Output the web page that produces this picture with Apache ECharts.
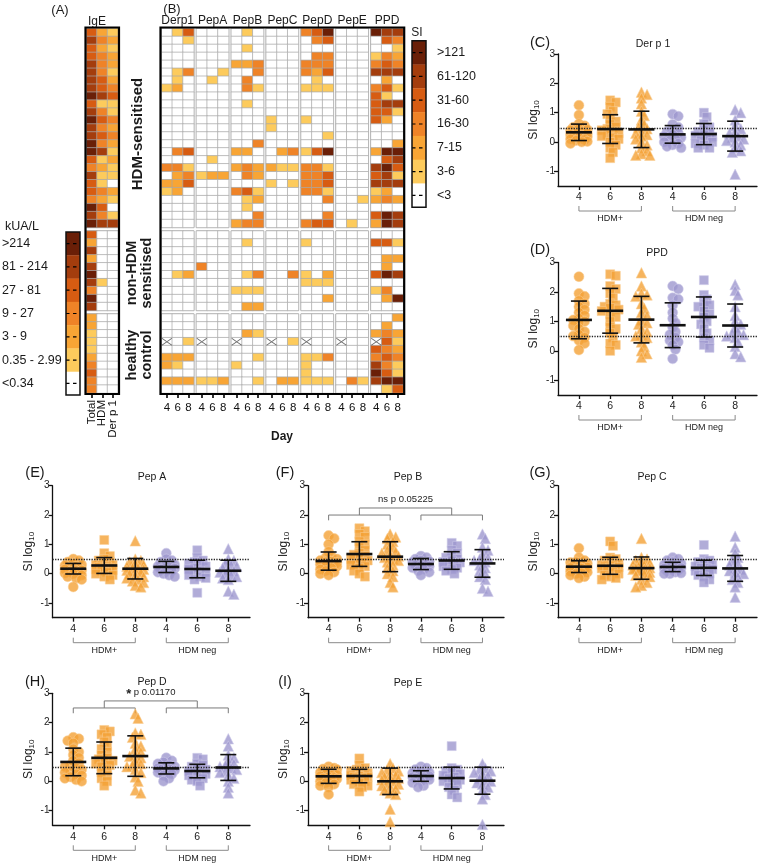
<!DOCTYPE html>
<html>
<head>
<meta charset="utf-8">
<script src="https://cdn.jsdelivr.net/npm/echarts@6/dist/echarts.min.js"></script>
<style>
  html, body { margin: 0; background: #fff; }
  #chart { width: 758px; height: 865px; }
</style>
</head>
<body>
<div id="chart"></div>
<script>
// ---------- heatmap data (level 0..6 per cell, 'x' = not tested) ----------
const sectionSizes = [25, 10, 10];
const igeCols = ['Total', 'HDM', 'Der p 1'];
const antigens = ['Derp1', 'PepA', 'PepB', 'PepC', 'PepD', 'PepE', 'PPD'];
const dayLabels = ['4', '6', '8'];
const igeLegend = ['>214', '81 - 214', '27 - 81', '9 - 27', '3 - 9', '0.35 - 2.99', '<0.34'];
const siLegend = ['>121', '61-120', '31-60', '16-30', '7-15', '3-6', '<3'];

const igeRows = ['421','532','421','432','532','531','542','543','654','411','531','643','532','543','632','651','412','321','511','410','432','321','640','531','655',
  '400','200','500','200','500','600','510','300','600','500',
  '200','200','100','100','100','200','300','400','300','300'];
const derp1Rows = ['014','001','000','000','000','013','010','120','000','000','000','000','000','000','000','034','000','331','023','224','120','000','000','000','000',
  '000','000','000','000','000','012','000','000','000','000',
  '000','000','000','x01','000','222','210','000','222','000'];
const pepARows = ['000','000','000','000','000','001','010','000','000','000','000','000','000','000','000','000','010','000','122','000','000','000','000','000','000',
  '000','000','000','000','300','000','000','000','000','000',
  '000','000','000','x00','000','000','000','000','112','000'];
const pepBRows = ['010','000','010','000','223','003','030','031','000','010','000','000','000','000','003','220','000','232','032','000','341','012','010','003','233',
  '000','010','000','000','000','013','000','111','000','022',
  '000','000','021','x00','000','001','100','000','001','000'];
const pepCRows = ['000','000','000','000','000','000','000','000','000','000','000','100','100','000','000','023','000','211','000','101','000','000','000','000','000',
  '000','000','000','000','000','003','000','000','000','000',
  '000','000','000','x01','000','000','000','000','022','000'];
const pepDRows = ['346','034','000','033','333','324','010','111','000','000','000','100','000','001','000','146','000','331','334','334','331','003','000','003','344',
  '000','100','000','000','000','102','111','000','002','000',
  '000','000','000','x00','000','113','100','100','111','000'];
const pepERows = ['000','000','000','000','000','000','000','000','000','000','000','000','000','000','000','000','000','000','000','000','000','001','000','000','010',
  '000','000','000','000','000','000','000','000','000','000',
  '000','000','000','x00','000','000','000','000','031','000'];
const ppdRows = ['655','043','001','132','343','555','020','341','410','455','441','420','000','000','002','266','045','564','451','555','120','232','000','465','265',
  '000','441','000','022','020','465','000','130','026','000',
  '002','020','232','x41','432','343','531','641','566','014'];
const antigenRows = [derp1Rows, pepARows, pepBRows, pepCRows, pepDRows, pepERows, ppdRows];

// ---------- scatter data: SI log10 per subject, groups HDM+ d4/d6/d8, HDM neg d4/d6/d8 ----------
const cohortNames = ['HDM+', 'HDM neg'];
const derP1Values = [
  [1.25,0.92,0.62,0.55,0.5,0.45,0.42,0.4,0.35,0.3,0.3,0.25,0.22,0.2,0.18,0.15,0.1,0.08,0.05,0.02,0,-0.05],
  [1.42,1.35,1.2,1.05,0.95,0.8,0.7,0.6,0.52,0.45,0.4,0.35,0.3,0.25,0.2,0.15,0.1,0,-0.1,-0.2,-0.35,-0.55],
  [1.7,1.62,1.5,1.3,1.05,0.9,0.75,0.6,0.5,0.45,0.35,0.3,0.25,0.2,0.1,0,-0.1,-0.2,-0.3,-0.4,-0.45,-0.45],
  [0.95,0.88,0.6,0.5,0.42,0.35,0.3,0.25,0.2,0.15,0.1,0.05,0,-0.05,-0.1,-0.15,-0.2],
  [1,0.85,0.62,0.5,0.4,0.35,0.3,0.25,0.22,0.18,0.12,0.05,0,-0.05,-0.1,-0.2,-0.2],
  [1.1,1,0.75,0.55,0.45,0.35,0.3,0.2,0.15,0.1,0.05,0,-0.1,-0.2,-0.3,-0.35,-1.1]
];
const derP1Mean = [0.33, 0.44, 0.43, 0.26, 0.27, 0.20];
const derP1Sd = [0.28, 0.49, 0.62, 0.30, 0.36, 0.51];

const ppdValues = [
  [2.52,1.95,1.85,1.7,1.6,1.5,1.4,1.3,1.2,1.1,1.05,1,0.95,0.85,0.75,0.65,0.55,0.5,0.45,0.35,0.25,0.03],
  [2.6,2.55,2.2,2.1,1.95,1.8,1.6,1.55,1.5,1.45,1.4,1.35,1.25,1.15,1,0.8,0.75,0.6,0.45,0.25,0.2,0],
  [2.65,2.2,1.95,1.9,1.85,1.6,1.45,1.3,1.2,1.05,0.95,0.9,0.75,0.65,0.55,0.5,0.45,0.3,0.15,0,-0.1,-0.22],
  [2.2,2.1,1.8,1.75,1.55,1.3,1.1,0.95,0.8,0.65,0.55,0.45,0.35,0.3,0.2,0.05,-0.27],
  [2.4,1.9,1.75,1.6,1.55,1.5,1.35,1.25,1.15,1,0.9,0.75,0.6,0.45,0.35,0.2,0.1],
  [2.25,2.05,1.9,1.5,1.2,1,0.9,0.8,0.65,0.6,0.55,0.5,0.45,0.3,0.15,-0.1,-0.2]
];
const ppdMean = [1.05, 1.36, 1.06, 0.87, 1.15, 0.86];
const ppdSd = [0.64, 0.76, 0.79, 0.76, 0.68, 0.73];

const pepAValues = [
  [0.5,0.45,0.4,0.35,0.3,0.28,0.25,0.22,0.2,0.18,0.15,0.12,0.1,0.08,0.05,0.02,0,-0.05,-0.1,-0.15,-0.2,-0.45],
  [1.15,0.7,0.6,0.5,0.45,0.4,0.35,0.3,0.3,0.28,0.25,0.22,0.2,0.18,0.15,0.12,0.1,0.05,0,-0.05,-0.1,-0.2],
  [1.12,0.5,0.45,0.4,0.35,0.3,0.25,0.2,0.2,0.15,0.12,0.1,0.05,0,-0.05,-0.1,-0.15,-0.2,-0.25,-0.3,-0.4,-0.45],
  [0.7,0.5,0.45,0.4,0.35,0.3,0.25,0.22,0.2,0.18,0.15,0.12,0.1,0.05,0,-0.05,-0.1],
  [0.8,0.55,0.45,0.4,0.35,0.3,0.25,0.2,0.15,0.1,0.05,0,-0.05,-0.1,-0.15,-0.2,-0.65],
  [0.85,0.5,0.45,0.35,0.3,0.25,0.2,0.15,0.1,0.05,0,-0.05,-0.1,-0.15,-0.2,-0.6,-0.7]
];
const pepAMean = [0.17, 0.28, 0.17, 0.23, 0.16, 0.10];
const pepASd = [0.18, 0.27, 0.35, 0.19, 0.30, 0.36];

const pepBValues = [
  [1.3,1.2,1,0.75,0.6,0.55,0.5,0.45,0.42,0.4,0.38,0.35,0.32,0.3,0.28,0.25,0.2,0.15,0.1,0.05,0,-0.05],
  [1.55,1.45,1.35,1.25,1.1,1,0.9,0.8,0.7,0.65,0.6,0.55,0.5,0.45,0.4,0.35,0.3,0.25,0.2,0.1,0,-0.1],
  [1.35,1.25,1.2,1.1,1,0.9,0.8,0.75,0.7,0.65,0.6,0.55,0.5,0.45,0.4,0.3,0.2,0.1,0,-0.1,-0.3,-0.45],
  [0.6,0.55,0.5,0.45,0.42,0.4,0.38,0.35,0.32,0.3,0.28,0.25,0.2,0.15,0.1,0.05,-0.05],
  [1.05,0.95,0.8,0.7,0.6,0.55,0.5,0.45,0.4,0.38,0.35,0.3,0.25,0.2,0.15,0.1,0],
  [1.35,1.2,0.9,0.8,0.65,0.55,0.5,0.45,0.4,0.3,0.2,0.1,0,-0.1,-0.2,-0.5,-0.6]
];
const pepBMean = [0.43, 0.67, 0.58, 0.33, 0.45, 0.35];
const pepBSd = [0.31, 0.42, 0.51, 0.19, 0.30, 0.47];

const pepCValues = [
  [0.87,0.55,0.45,0.4,0.38,0.35,0.3,0.28,0.25,0.22,0.2,0.18,0.15,0.12,0.1,0.08,0.05,0.02,0,-0.05,-0.1,-0.15],
  [1.1,0.95,0.55,0.5,0.45,0.4,0.35,0.3,0.3,0.28,0.25,0.22,0.2,0.18,0.15,0.1,0.05,0,-0.05,-0.1,-0.15,-0.2],
  [1.2,0.55,0.5,0.45,0.4,0.35,0.3,0.3,0.25,0.2,0.2,0.15,0.15,0.1,0.05,0,-0.05,-0.1,-0.2,-0.3,-0.4,-0.45],
  [0.55,0.5,0.45,0.4,0.35,0.3,0.25,0.22,0.2,0.18,0.15,0.12,0.1,0.05,0.02,0,0],
  [0.98,0.5,0.45,0.4,0.35,0.3,0.25,0.2,0.2,0.15,0.1,0.05,0,-0.05,-0.1,-0.2,-0.3],
  [1.28,0.9,0.7,0.55,0.45,0.35,0.3,0.2,0.15,0.1,0.05,0,-0.1,-0.2,-0.3,-0.45,-0.8]
];
const pepCMean = [0.24, 0.27, 0.19, 0.23, 0.20, 0.18];
const pepCSd = [0.20, 0.29, 0.38, 0.16, 0.26, 0.44];

const pepDValues = [
  [1.5,1.45,1.38,1.3,1.1,1,0.9,0.8,0.7,0.62,0.55,0.5,0.45,0.4,0.35,0.3,0.25,0.2,0.15,0.1,0.05,0],
  [1.75,1.7,1.6,1.5,1.35,1.2,1.1,1,0.9,0.8,0.75,0.7,0.65,0.6,0.55,0.5,0.4,0.3,0.2,0.1,0,-0.15],
  [2.3,2.15,1.65,1.6,1.5,1.3,1.2,1.1,1,0.9,0.85,0.8,0.7,0.6,0.55,0.5,0.4,0.3,0.15,0,-0.3,-0.4],
  [0.8,0.7,0.65,0.6,0.55,0.5,0.48,0.45,0.42,0.4,0.38,0.35,0.3,0.25,0.2,0.1,0],
  [0.8,0.75,0.6,0.55,0.5,0.45,0.4,0.35,0.32,0.3,0.25,0.2,0.15,0.1,0.05,0,-0.15],
  [1.45,1.2,0.9,0.8,0.7,0.6,0.55,0.5,0.45,0.4,0.35,0.3,0.2,0.1,0,-0.2,-0.4]
];
const pepDMean = [0.66, 0.80, 0.86, 0.44, 0.35, 0.47];
const pepDSd = [0.47, 0.54, 0.69, 0.19, 0.23, 0.44];

const pepEValues = [
  [0.5,0.45,0.42,0.4,0.35,0.3,0.28,0.25,0.22,0.2,0.18,0.15,0.12,0.1,0.08,0.05,0,-0.05,-0.1,-0.15,-0.2,-0.45],
  [0.78,0.55,0.45,0.4,0.35,0.3,0.28,0.25,0.2,0.2,0.18,0.15,0.15,0.12,0.1,0.05,0,-0.05,-0.1,-0.15,-0.2,-0.35],
  [0.6,0.45,0.4,0.35,0.3,0.25,0.2,0.15,0.1,0.1,0.05,0,-0.05,-0.1,-0.15,-0.2,-0.25,-0.3,-0.4,-0.45,-0.95,-1.38],
  [0.5,0.45,0.4,0.35,0.3,0.28,0.25,0.2,0.18,0.15,0.12,0.1,0.05,0,-0.05,-0.15,-0.2],
  [1.2,0.45,0.4,0.35,0.3,0.25,0.2,0.15,0.1,0.05,0,-0.05,-0.1,-0.2,-0.3,-0.45,-0.55],
  [0.6,0.45,0.4,0.35,0.3,0.25,0.2,0.1,0.05,0,-0.05,-0.1,-0.2,-0.3,-0.45,-0.6,-1.47]
];
const pepEMean = [0.17, 0.18, 0.00, 0.18, 0.11, 0.02];
const pepESd = [0.24, 0.23, 0.45, 0.18, 0.37, 0.46];

const scatterPanels = [
  { tag: '(C)', title: 'Der p 1', values: derP1Values, mean: derP1Mean, sd: derP1Sd },
  { tag: '(D)', title: 'PPD', values: ppdValues, mean: ppdMean, sd: ppdSd },
  { tag: '(E)', title: 'Pep A', values: pepAValues, mean: pepAMean, sd: pepASd },
  { tag: '(F)', title: 'Pep B', values: pepBValues, mean: pepBMean, sd: pepBSd, sig: 'ns p 0.05225' },
  { tag: '(G)', title: 'Pep C', values: pepCValues, mean: pepCMean, sd: pepCSd },
  { tag: '(H)', title: 'Pep D', values: pepDValues, mean: pepDMean, sd: pepDSd, sig: '{b|*} p 0.01170' },
  { tag: '(I)', title: 'Pep E', values: pepEValues, mean: pepEMean, sd: pepESd }
];

// ---------- layout ----------
const font = 'Liberation Sans, Arial, Helvetica, sans-serif';
const palette = ['#ffffff', '#fdcb5c', '#f8a535', '#ef8327', '#d75c12', '#a43d0d', '#6a1f07'];
const panelBoxes = [
  { left: 558, top: 54, width: 199, height: 132, tag: [540, 43], title: [653, 44] },
  { left: 558, top: 262.5, width: 199, height: 132.5, tag: [540, 250], title: [657, 253] },
  { left: 52.5, top: 485.7, width: 197.5, height: 132, tag: [35, 473], title: [152, 477] },
  { left: 308, top: 485.7, width: 196, height: 132, tag: [285, 473], title: [408, 477], sigY: 2.0 },
  { left: 558, top: 485.7, width: 199, height: 132, tag: [540, 473], title: [652, 477] },
  { left: 52.5, top: 693.3, width: 197.5, height: 132, tag: [35, 682], title: [152, 682], sigY: 2.5 },
  { left: 308, top: 693.3, width: 196, height: 132, tag: [285, 682], title: [408, 683] }
];
const secTop = [28.5, 231, 314];
const secHeight = [199, 79.5, 79];
const xMin = 0.33, xMax = 6.7;
const groupPos = [1, 2, 3, 4, 5, 6];

const grids = [], xAxes = [], yAxes = [], series = [], heatIdx = [];

// heatmap blocks: IgE + 7 antigens, each split into 3 sections
const blocks = [{ left: 86.5, width: 31.5, rows: igeRows, labels: igeCols, rotate: 90 }]
  .concat(antigens.map((a, g) => ({ left: 161.5 + g * 34.9, width: 32.3, rows: antigenRows[g], labels: dayLabels, rotate: 0 })));

blocks.forEach(b => {
  let start = 0;
  sectionSizes.forEach((n, s) => {
    const gi = grids.length;
    grids.push({ left: b.left, top: secTop[s], width: b.width, height: secHeight[s], show: true, borderColor: '#9d9d9d', borderWidth: 1 });
    const last = s === sectionSizes.length - 1;
    xAxes.push({
      gridIndex: gi, type: 'category', data: b.labels, show: last,
      axisLine: { show: false },
      axisTick: { show: true, alignWithLabel: true, length: 5, lineStyle: { color: '#000', width: 1.6 } },
      axisLabel: { show: true, interval: 0, rotate: b.rotate, fontSize: 11.5, color: '#111', margin: b.rotate ? 7 : 9, fontFamily: font }
    });
    yAxes.push({ gridIndex: gi, type: 'category', data: b.rows.slice(start, start + n).map((r, i) => i), inverse: true, show: false });
    const cells = [], crosses = [];
    for (let r = 0; r < n; r++) {
      const row = b.rows[start + r];
      for (let c = 0; c < 3; c++) {
        if (row[c] === 'x') { cells.push([c, r, -1]); crosses.push([c, r]); }
        else cells.push([c, r, +row[c]]);
      }
    }
    heatIdx.push(series.length);
    series.push({
      type: 'heatmap', xAxisIndex: gi, yAxisIndex: gi, data: cells, silent: true,
      itemStyle: { borderColor: '#a8a8a8', borderWidth: 0.7 }, emphasis: { disabled: true }
    });
    if (crosses.length) {
      series.push({
        type: 'scatter', xAxisIndex: gi, yAxisIndex: gi, data: crosses, silent: true, z: 5,
        symbol: 'path://M0 0L10 7M10 0L0 7', symbolSize: [10, 7],
        itemStyle: { color: 'rgba(0,0,0,0)', borderColor: '#444', borderWidth: 0.9 }
      });
    }
    start += n;
  });
});

// simple beeswarm: spread overlapping points sideways, a little
function swarm(vals, pos, pxX, pxY) {
  const pts = [];
  const steps = [0, 1, -1, 2, -2, 3, -3];
  vals.forEach(v => {
    let best = pos, bestD = -1;
    for (const k of steps) {
      const x = pos + k * 0.09;
      let d = Infinity;
      pts.forEach(p => { d = Math.min(d, Math.hypot((p[0] - x) * pxX, (p[1] - v) * pxY)); });
      if (d >= 5) { best = x; break; }
      if (d > bestD) { bestD = d; best = x; }
    }
    pts.push([best, v]);
  });
  return pts;
}

const shapes = ['circle', 'rect', 'triangle'];
const shapeSize = [10, 9, 10.5];
const orangeStyle = { color: '#f4a136', borderColor: '#f9cf95', borderWidth: 0.7 };
const purpleStyle = { color: '#9e97ce', borderColor: '#cfcbea', borderWidth: 0.7 };
const axisCol = { color: '#111', width: 1.3 };

scatterPanels.forEach((p, k) => {
  const box = panelBoxes[k];
  const gi = grids.length;
  grids.push({ left: box.left, top: box.top, width: box.width, height: box.height });
  xAxes.push({
    gridIndex: gi, type: 'value', min: xMin, max: xMax,
    axisLine: { show: true, onZero: false, lineStyle: axisCol },
    axisTick: { show: true, customValues: groupPos, length: 4, lineStyle: axisCol },
    axisLabel: { customValues: groupPos, formatter: v => dayLabels[(Math.round(v) - 1) % 3], fontSize: 10.5, color: '#222', margin: 6, fontFamily: font },
    splitLine: { show: false }
  });
  yAxes.push({
    gridIndex: gi, type: 'value', min: -1.5, max: 3,
    name: '{a|SI log}{s|10}', nameLocation: 'middle', nameGap: 17,
    nameTextStyle: { fontFamily: font, color: '#222', rich: { a: { fontSize: 12, fontFamily: font }, s: { fontSize: 8, fontFamily: font, padding: [6, 0, 0, 0] } } },
    axisLine: { show: true, onZero: false, lineStyle: axisCol },
    axisTick: { show: true, customValues: [-1, 0, 1, 2, 3], length: 4, lineStyle: axisCol },
    axisLabel: { customValues: [-1, 0, 1, 2, 3], fontSize: 10, color: '#222', margin: 3, fontFamily: font },
    splitLine: { show: false }
  });
  const pxX = box.width / (xMax - xMin), pxY = box.height / 4.5;
  p.values.forEach((vals, j) => {
    const s = {
      type: 'scatter', xAxisIndex: gi, yAxisIndex: gi, silent: true, z: 2,
      symbol: shapes[j % 3], symbolSize: shapeSize[j % 3],
      itemStyle: j < 3 ? orangeStyle : purpleStyle,
      data: swarm(vals, groupPos[j], pxX, pxY)
    };
    if (j === 0) {
      s.markLine = {
        silent: true, symbol: ['none', 'none'], label: { show: false },
        lineStyle: { type: 'dotted', color: '#222', width: 1.3 },
        data: [{ yAxis: Math.log10(3) }]
      };
    }
    series.push(s);
  });
  // mean ± SD
  series.push({
    type: 'custom', xAxisIndex: gi, yAxisIndex: gi, silent: true, z: 6,
    data: groupPos.map((x, j) => [x, p.mean[j], p.sd[j]]),
    renderItem: (params, api) => {
      const x = api.value(0), m = api.value(1), sd = api.value(2);
      const c = api.coord([x, m]), t = api.coord([x, m + sd]), b = api.coord([x, m - sd]);
      const st = { stroke: '#111', lineWidth: 1.6 };
      return { type: 'group', children: [
        { type: 'line', shape: { x1: c[0], y1: t[1], x2: c[0], y2: b[1] }, style: st },
        { type: 'line', shape: { x1: c[0] - 8, y1: t[1], x2: c[0] + 8, y2: t[1] }, style: st },
        { type: 'line', shape: { x1: c[0] - 8, y1: b[1], x2: c[0] + 8, y2: b[1] }, style: st },
        { type: 'line', shape: { x1: c[0] - 13, y1: c[1], x2: c[0] + 13, y2: c[1] }, style: { stroke: '#111', lineWidth: 2.6 } }
      ] };
    }
  });
  // cohort brackets below the axis
  series.push({
    type: 'custom', xAxisIndex: gi, yAxisIndex: gi, silent: true, clip: false,
    data: [[1, 3], [4, 6]],
    renderItem: (params, api) => {
      const a = api.coord([api.value(0), -1.5]), b = api.coord([api.value(1), -1.5]);
      const y = a[1] + 25;
      return { type: 'group', children: [
        { type: 'polyline', shape: { points: [[a[0], y - 5], [a[0], y], [b[0], y], [b[0], y - 5]] }, style: { stroke: '#8a8a8a', lineWidth: 1, fill: null } },
        { type: 'text', x: (a[0] + b[0]) / 2, y: y + 8, style: { text: cohortNames[params.dataIndex], fontSize: 9, fontFamily: font, fill: '#222', align: 'center', verticalAlign: 'middle' } }
      ] };
    }
  });
  // significance bracket
  if (p.sig) {
    const low = box.sigY;
    series.push({
      type: 'custom', xAxisIndex: gi, yAxisIndex: gi, silent: true, clip: false,
      data: [[3.5, low]],
      renderItem: (params, api) => {
        const P = (x, y) => api.coord([x, y]);
        const yl = P(1, low)[1], yt = P(1, low - 0.18)[1], yu = P(1, low + 0.24)[1], yx = P(1, low + 0.52)[1];
        const x1 = P(1, 0)[0], x2 = P(2, 0)[0], x3 = P(3, 0)[0], x4 = P(4, 0)[0], x5 = P(5, 0)[0], x6 = P(6, 0)[0];
        const st = { stroke: '#7a7a7a', lineWidth: 1, fill: null };
        return { type: 'group', children: [
          { type: 'polyline', shape: { points: [[x1, yt], [x1, yl], [x3, yl], [x3, yt]] }, style: st },
          { type: 'polyline', shape: { points: [[x4, yt], [x4, yl], [x6, yl], [x6, yt]] }, style: st },
          { type: 'polyline', shape: { points: [[x2, yl], [x2, yu], [x5, yu], [x5, yl]] }, style: st },
          { type: 'text', x: P(3.5, 0)[0], y: yx, style: { text: p.sig, fontSize: 9.5, fontFamily: font, fill: '#222', align: 'center', verticalAlign: 'middle', rich: { b: { fontSize: 13, fontWeight: 'bold', fontFamily: font, padding: [4, 0, 0, 0] } } } }
        ] };
      }
    });
  }
});

// ---------- static texts, legends, borders ----------
const gfx = [];
function text(x, y, s, size, opt) {
  opt = opt || {};
  gfx.push({
    type: 'text', x, y, rotation: opt.rot || 0, z: 50,
    style: { text: s, fontSize: size, fontFamily: font, fontWeight: opt.bold ? 'bold' : 'normal', fill: '#1a1a1a', align: opt.align || 'center', verticalAlign: 'middle' }
  });
}
text(60, 10, '(A)', 13);
text(172, 9, '(B)', 13);
text(97, 22, 'IgE', 12);
antigens.forEach((a, g) => text(161.5 + g * 34.9 + 16.2, 21, a, 12));
text(417, 33, 'SI', 12);
text(22, 227, 'kUA/L', 12.5);
text(138, 134, 'HDM-sensitised', 15, { rot: Math.PI / 2, bold: true });
text(132, 273, 'non-HDM', 14.5, { rot: Math.PI / 2, bold: true });
text(147, 273, 'sensitised', 14.5, { rot: Math.PI / 2, bold: true });
text(132, 355, 'healthy', 14.5, { rot: Math.PI / 2, bold: true });
text(147, 355, 'control', 14.5, { rot: Math.PI / 2, bold: true });
text(282, 437, 'Day', 12, { bold: true });

function legendBar(x, y, w, h, labels, labelX) {
  const step = h / labels.length;
  labels.forEach((lab, i) => {
    gfx.push({ type: 'rect', shape: { x, y: y + i * step, width: w, height: step + 0.3 }, style: { fill: palette[labels.length - 1 - i] }, z: 40 });
    gfx.push({ type: 'line', shape: { x1: x, y1: y + (i + 0.5) * step, x2: x + w, y2: y + (i + 0.5) * step }, style: { stroke: '#000', lineWidth: 1.2, lineDash: [3.5, 3.5] }, z: 41 });
    text(labelX, y + (i + 0.5) * step, lab, 12.5, { align: 'left' });
  });
  gfx.push({ type: 'rect', shape: { x, y, width: w, height: h }, style: { fill: null, stroke: '#111', lineWidth: 1.5 }, z: 42 });
}
legendBar(66, 232, 14, 163, igeLegend, 2);
legendBar(412, 40.7, 14, 166.6, siLegend, 437);

gfx.push({ type: 'rect', shape: { x: 85.5, y: 27.5, width: 33.5, height: 366.5 }, style: { fill: null, stroke: '#000', lineWidth: 2.2 }, z: 60 });
gfx.push({ type: 'rect', shape: { x: 160.5, y: 27.5, width: 243.7, height: 366.5 }, style: { fill: null, stroke: '#000', lineWidth: 2.2 }, z: 60 });

scatterPanels.forEach((p, k) => {
  const box = panelBoxes[k];
  text(box.tag[0], box.tag[1], p.tag, 14.5);
  text(box.title[0], box.title[1], p.title, 10.5);
});

const chart = echarts.init(document.getElementById('chart'));
chart.setOption({
  animation: false,
  backgroundColor: '#fff',
  textStyle: { fontFamily: font },
  grid: grids,
  xAxis: xAxes,
  yAxis: yAxes,
  visualMap: {
    type: 'piecewise', show: false, dimension: 2, seriesIndex: heatIdx,
    pieces: [{ value: -1, color: '#ffffff' }].concat(palette.map((c, i) => ({ value: i, color: c })))
  },
  series: series,
  graphic: { elements: gfx }
});
</script>
</body>
</html>
